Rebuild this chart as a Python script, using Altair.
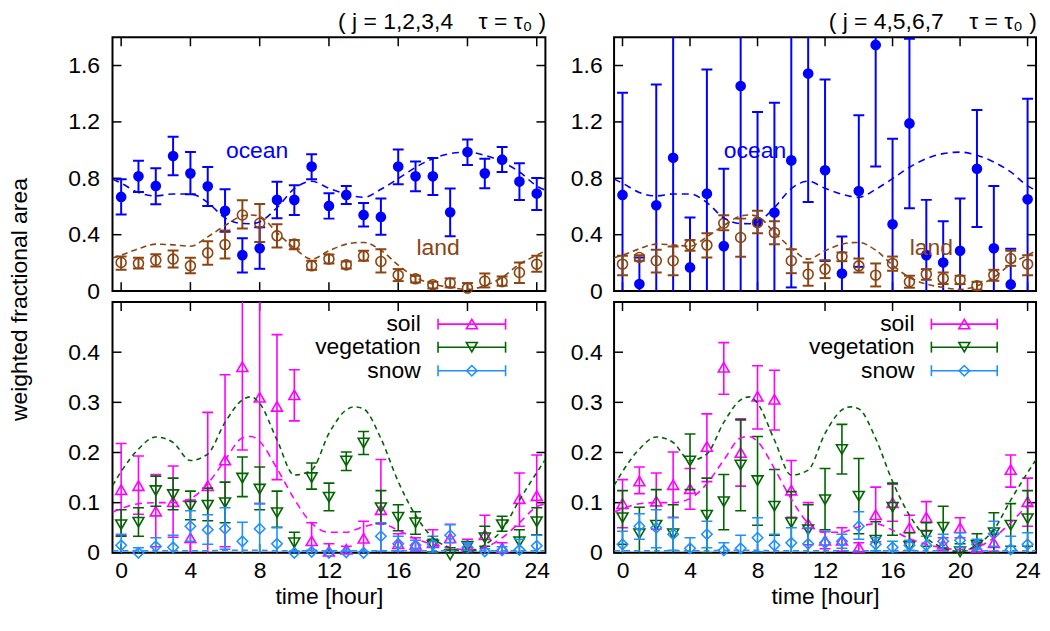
import altair as alt
import pandas as pd

FONT = "Liberation Sans"
FS = 23

HOURS = list(range(25))
XTICKS = [0, 4, 8, 12, 16, 20, 24]
YT_TOP = [0, 0.4, 0.8, 1.2, 1.6]
YT_BOT = [0, 0.1, 0.2, 0.3, 0.4]

# ---------------- top-left (j = 1,2,3,4) ----------------
TL_OCEAN = [0.668, 0.814, 0.746, 0.958, 0.835, 0.743, 0.569, 0.255, 0.304, 0.647, 0.647, 0.883, 0.604,
            0.682, 0.540, 0.526, 0.883, 0.814, 0.814, 0.559, 0.986, 0.835, 0.932, 0.777, 0.692]
TL_OCEAN_LO = [0.543, 0.703, 0.616, 0.821, 0.687, 0.604, 0.420, 0.132, 0.158, 0.517, 0.540, 0.793, 0.514,
               0.618, 0.458, 0.399, 0.758, 0.708, 0.682, 0.389, 0.894, 0.729, 0.845, 0.646, 0.576]
TL_OCEAN_HI = [0.793, 0.925, 0.871, 1.095, 0.986, 0.880, 0.722, 0.375, 0.453, 0.776, 0.750, 0.970, 0.694,
               0.746, 0.625, 0.656, 1.005, 0.920, 0.944, 0.727, 1.076, 0.939, 1.022, 0.906, 0.802]
TL_LAND = [0.203, 0.196, 0.219, 0.227, 0.179, 0.271, 0.330, 0.540, 0.481, 0.392, 0.333, 0.179, 0.227,
           0.186, 0.248, 0.210, 0.113, 0.087, 0.045, 0.057, 0.021, 0.071, 0.066, 0.132, 0.191]
TL_LAND_LO = [0.151, 0.160, 0.175, 0.168, 0.127, 0.186, 0.231, 0.444, 0.349, 0.309, 0.297, 0.151, 0.196,
              0.160, 0.215, 0.132, 0.071, 0.061, 0.019, 0.026, -0.015, 0.026, 0.038, 0.057, 0.137]
TL_LAND_HI = [0.245, 0.236, 0.262, 0.288, 0.236, 0.354, 0.430, 0.644, 0.618, 0.474, 0.363, 0.215, 0.260,
              0.210, 0.286, 0.297, 0.156, 0.109, 0.066, 0.090, 0.057, 0.125, 0.104, 0.203, 0.250]

# ---------------- top-right (j = 4,5,6,7) ----------------
TR_OCEAN = [0.682, 0.050, 0.609, 0.946, 0.168, 0.691, 0.319, 1.454, 0.491, 0.557, 0.927, 1.543, 0.857,
            0.125, 0.710, 1.746, 0.474, 1.189, 0.255, 0.203, 0.286, 0.868, 0.304, 0.047, 0.651]
TR_OCEAN_LO = [-0.04, -0.14, -0.25, -0.05, -0.19, -0.19, -0.23, -0.15, -0.29, -0.22, 0.026, 0.632, 0.214,
               -0.14, 0.172, 0.883, -0.13, 0.588, -0.14, -0.09, -0.08, 0.455, -0.14, -0.20, -0.06]
TR_OCEAN_HI = [1.406, 0.238, 1.465, 1.95, 0.522, 1.572, 0.868, 3.06, 1.270, 1.336, 1.83, 2.45, 1.50,
               0.387, 1.248, 2.61, 1.081, 1.789, 0.647, 0.496, 0.656, 1.284, 0.746, 0.30, 1.364]
TR_LAND = [0.191, 0.238, 0.215, 0.215, 0.326, 0.326, 0.481, 0.380, 0.486, 0.415, 0.215, 0.120, 0.156,
           0.245, 0.179, 0.113, 0.196, 0.066, 0.120, 0.090, 0.080, 0.038, 0.113, 0.231, 0.191]
TR_LAND_LO = [0.113, 0.215, 0.132, 0.113, 0.286, 0.238, 0.432, 0.243, 0.410, 0.333, 0.127, 0.038, 0.092,
              0.212, 0.132, 0.033, 0.144, 0.024, 0.080, 0.050, 0.050, 0.010, 0.073, 0.179, 0.113]
TR_LAND_HI = [0.250, 0.255, 0.293, 0.316, 0.363, 0.410, 0.538, 0.514, 0.569, 0.496, 0.297, 0.203, 0.219,
              0.274, 0.231, 0.196, 0.245, 0.109, 0.156, 0.132, 0.109, 0.066, 0.151, 0.286, 0.255]

# ---------------- bottom-left ----------------
BL_SOIL = [0.126, 0.134, 0.083, 0.102, 0.030, 0.134, 0.185, 0.371, 0.310, 0.292, 0.315, 0.024, 0.003,
           0.007, 0.029, 0.086, 0.018, 0.017, 0.020, 0.030, 0.015, 0.036, 0.010, 0.108, 0.114]
BL_SOIL_LO = [0.034, 0.077, 0.012, 0.031, -0.045, -0.010, 0.012, 0.205, 0.098, 0.146, 0.263, -0.010, -0.010,
              0.001, -0.005, -0.014, -0.002, 0.003, -0.006, 0.005, 0.003, -0.003, 0.000, 0.053, 0.036]
BL_SOIL_HI = [0.218, 0.193, 0.156, 0.173, 0.105, 0.280, 0.355, 0.537, 0.520, 0.435, 0.365, 0.060, 0.018,
              0.013, 0.063, 0.186, 0.038, 0.030, 0.046, 0.057, 0.027, 0.075, 0.020, 0.159, 0.195]
BL_VEG = [0.056, 0.061, 0.124, 0.116, 0.093, 0.095, 0.100, 0.149, 0.127, 0.080, 0.020, 0.150, 0.111,
          0.183, 0.219, 0.090, 0.071, 0.060, 0.015, -0.004, 0.013, 0.030, 0.056, 0.022, 0.062]
BL_VEG_LO = [0.033, 0.033, 0.093, 0.086, 0.066, 0.064, 0.060, 0.112, 0.086, 0.051, 0.003, 0.127, 0.084,
             0.164, 0.196, 0.058, 0.044, 0.037, 0.002, -0.020, 0.005, 0.013, 0.043, -0.002, 0.036]
BL_VEG_HI = [0.086, 0.090, 0.153, 0.149, 0.123, 0.129, 0.141, 0.191, 0.171, 0.123, 0.041, 0.179, 0.139,
             0.201, 0.242, 0.124, 0.096, 0.082, 0.027, 0.010, 0.020, 0.053, 0.073, 0.046, 0.090]
BL_SNOW = [0.015, 0.000, 0.013, 0.011, 0.053, 0.046, 0.048, 0.023, 0.048, 0.018, 0.000, 0.002, 0.000,
           0.001, 0.000, 0.033, 0.018, 0.015, 0.017, 0.035, 0.011, 0.003, 0.005, 0.006, 0.014]
BL_SNOW_LO = [-0.007, -0.010, -0.004, -0.012, 0.023, 0.017, 0.007, -0.015, -0.002, -0.014, -0.002, -0.001, -0.002,
              -0.002, -0.002, 0.003, 0.003, 0.005, 0.001, 0.020, 0.002, -0.002, -0.003, -0.015, -0.007]
BL_SNOW_HI = [0.037, 0.010, 0.030, 0.035, 0.084, 0.076, 0.090, 0.061, 0.098, 0.050, 0.002, 0.005, 0.002,
              0.003, 0.002, 0.060, 0.033, 0.025, 0.033, 0.056, 0.020, 0.008, 0.012, 0.027, 0.035]

# ---------------- bottom-right ----------------
BR_SOIL = [0.098, 0.143, 0.103, 0.136, 0.128, 0.212, 0.370, 0.200, 0.312, 0.306, 0.125, 0.058, 0.025,
           0.025, 0.011, 0.076, 0.100, 0.050, 0.071, 0.017, 0.050, 0.011, 0.020, 0.166, 0.102]
BR_SOIL_LO = [0.050, 0.118, 0.047, 0.071, 0.087, 0.142, 0.316, 0.133, 0.247, 0.245, 0.071, 0.016, 0.008,
              0.003, 0.002, 0.022, 0.063, 0.023, 0.043, 0.004, 0.030, 0.002, 0.003, 0.131, 0.053]
BR_SOIL_HI = [0.146, 0.171, 0.159, 0.201, 0.168, 0.277, 0.419, 0.267, 0.373, 0.364, 0.184, 0.100, 0.042,
              0.050, 0.020, 0.131, 0.137, 0.075, 0.102, 0.030, 0.070, 0.020, 0.037, 0.195, 0.149]
BR_VEG = [0.070, 0.038, 0.055, 0.038, 0.183, 0.075, 0.102, 0.175, 0.144, 0.093, 0.060, 0.046, 0.106,
          0.206, 0.113, 0.025, 0.091, 0.013, 0.035, 0.051, 0.002, 0.015, 0.040, 0.055, 0.068]
BR_VEG_LO = [0.017, -0.015, -0.016, -0.020, 0.126, 0.000, 0.046, 0.084, 0.055, 0.035, -0.002, -0.004, 0.046,
             0.157, 0.038, -0.012, 0.035, -0.014, 0.013, 0.010, -0.014, -0.008, 0.000, 0.013, 0.013]
BR_VEG_HI = [0.124, 0.091, 0.126, 0.096, 0.237, 0.149, 0.156, 0.265, 0.232, 0.166, 0.122, 0.096, 0.168,
             0.256, 0.188, 0.062, 0.139, 0.040, 0.060, 0.093, 0.018, 0.038, 0.080, 0.098, 0.124]
BR_SNOW = [0.017, 0.053, 0.050, 0.037, 0.009, 0.037, 0.005, 0.009, 0.030, 0.015, 0.020, 0.018, 0.020,
           0.023, 0.053, 0.017, 0.011, 0.015, 0.015, 0.023, 0.025, 0.017, 0.038, 0.007, 0.017]
BR_SNOW_LO = [-0.009, 0.027, 0.010, 0.005, -0.012, 0.010, -0.010, -0.017, 0.002, -0.007, -0.010, -0.014, -0.003,
              0.009, 0.027, 0.004, -0.001, 0.005, -0.003, 0.009, 0.010, 0.007, 0.013, -0.019, -0.006]
BR_SNOW_HI = [0.043, 0.078, 0.086, 0.070, 0.030, 0.063, 0.020, 0.035, 0.070, 0.037, 0.050, 0.050, 0.043,
              0.037, 0.082, 0.030, 0.023, 0.025, 0.033, 0.037, 0.040, 0.027, 0.063, 0.033, 0.040]

# ---------------- model curves (dashed) ----------------
MODEL_H = [-0.5, 0, 1, 2, 3, 4, 5, 6, 7, 7.5, 8, 9, 10, 11, 12, 13, 13.5, 14, 15, 16, 17, 18, 19, 20,
           21, 22, 23, 24, 24.5]
OCEAN_MODEL = [0.795, 0.765, 0.699, 0.675, 0.689, 0.689, 0.628, 0.519, 0.479, 0.478, 0.491, 0.592, 0.727,
               0.779, 0.729, 0.687, 0.672, 0.665, 0.722, 0.798, 0.878, 0.939, 0.975, 0.986, 0.963, 0.916,
               0.845, 0.746, 0.715]
LAND_MODEL = [0.235, 0.255, 0.300, 0.333, 0.328, 0.318, 0.385, 0.465, 0.533, 0.540, 0.530, 0.415, 0.305,
              0.227, 0.286, 0.333, 0.343, 0.345, 0.290, 0.185, 0.097, 0.050, 0.026, 0.012, 0.038, 0.097,
              0.190, 0.255, 0.285]
VEG_MODEL = [0.134, 0.162, 0.207, 0.231, 0.220, 0.184, 0.197, 0.260, 0.305, 0.311, 0.298, 0.225, 0.155,
             0.165, 0.238, 0.285, 0.291, 0.287, 0.228, 0.142, 0.075, 0.030, 0.010, 0.002, 0.016, 0.046,
             0.105, 0.160, 0.186]
SOIL_MODEL = [0.081, 0.088, 0.098, 0.100, 0.100, 0.108, 0.138, 0.185, 0.229, 0.232, 0.222, 0.168, 0.107,
              0.059, 0.041, 0.041, 0.046, 0.052, 0.058, 0.045, 0.028, 0.017, 0.010, 0.006, 0.011, 0.030,
              0.060, 0.092, 0.098]
SNOW_MODEL = [0.004, 0.004, 0.004, 0.004, 0.004, 0.004, 0.004, 0.005, 0.005, 0.005, 0.005, 0.004, 0.004,
              0.004, 0.004, 0.004, 0.004, 0.004, 0.004, 0.004, 0.004, 0.004, 0.004, 0.004, 0.004, 0.004,
              0.004, 0.004, 0.004]

LEGEND_NAMES = ["soil", "vegetation", "snow"]

# ---------------- styles ----------------
C_OCEAN = "#0000ff"
C_LAND = "#8b4513"
C_SOIL = "#ff00ff"
C_VEG = "#006400"
C_SNOW = "#1e90ff"
TICK_LEN = 9
CAP = 11


def build_panel(W, H, ydom, yticks, series, models, labels, legend, show_x, ytitle, title=None, lpad=13):
    xs = alt.Scale(domain=[-0.5, 24.5], nice=False, zero=False)
    ys = alt.Scale(domain=ydom, nice=False, zero=False)
    if show_x:
        xax = alt.Axis(values=XTICKS, format="d", ticks=False, tickSize=0, domain=False, grid=False,
                       labelPadding=7, titlePadding=3, labelFont=FONT, labelFontSize=FS,
                       titleFont=FONT, titleFontSize=FS, titleFontWeight="normal",
                       labelColor="black", titleColor="black", labelFlush=False)
        xtitle = "time [hour]"
    else:
        xax = None
        xtitle = None
    ykw = dict(values=yticks, labelExpr="datum.value == 0 ? '0' : format(datum.value, '.1f')",
               ticks=False, tickSize=0, domain=False, grid=False, labelPadding=lpad,
               labelFont=FONT, labelFontSize=FS, labelColor="black")
    if ytitle:
        ykw.update(titleX=-81, titleY=263, titleFont=FONT, titleFontSize=FS,
                   titleFontWeight="normal", titleColor="black")
    yax = alt.Axis(**ykw)

    def X(f):
        return alt.X(f, scale=xs, axis=xax, title=xtitle)

    def Y(f):
        return alt.Y(f, scale=ys, axis=yax, title=ytitle)

    layers = []
    xt = pd.DataFrame({"h": XTICKS})
    yt = pd.DataFrame({"v": yticks})
    rule = dict(color="black", strokeWidth=1.5)
    layers.append(alt.Chart(xt).mark_rule(**rule).encode(x=X("h:Q"), y=alt.value(0), y2=alt.value(TICK_LEN)))
    layers.append(alt.Chart(xt).mark_rule(**rule).encode(x=X("h:Q"), y=alt.value(H), y2=alt.value(H - TICK_LEN)))
    layers.append(alt.Chart(yt).mark_rule(**rule).encode(y=Y("v:Q"), x=alt.value(0), x2=alt.value(TICK_LEN)))
    layers.append(alt.Chart(yt).mark_rule(**rule).encode(y=Y("v:Q"), x=alt.value(W), x2=alt.value(W - TICK_LEN)))

    for s in series:
        df = pd.DataFrame({"h": HOURS, "v": s["v"], "lo": s["lo"], "hi": s["hi"]})
        base = alt.Chart(df)
        layers.append(base.mark_rule(color=s["color"], strokeWidth=s["bw"], clip=True)
                      .encode(x=X("h:Q"), y=Y("lo:Q"), y2="hi:Q"))
        for f in ("lo", "hi"):
            layers.append(base.mark_tick(color=s["color"], orient="horizontal", size=CAP,
                                         thickness=s["bw"], clip=True, opacity=1)
                          .encode(x=X("h:Q"), y=Y(f + ":Q")))
        layers.append(base.mark_point(shape=s["shape"], filled=s["filled"], color=s["color"],
                                      size=s["size"], strokeWidth=1.6, opacity=1)
                      .encode(x=X("h:Q"), y=Y("v:Q")))

    for m in models:
        df = pd.DataFrame({"h": MODEL_H, "v": m["v"]})
        layers.append(alt.Chart(df).mark_line(color=m["color"], strokeDash=m["dash"], strokeWidth=1.6,
                                              interpolate="monotone", clip=True)
                      .encode(x=X("h:Q"), y=Y("v:Q")))

    for (txt, hx, vy, col) in labels:
        layers.append(alt.Chart(pd.DataFrame({"t": [txt]}))
                      .mark_text(color=col, font=FONT, fontSize=FS, align="center", baseline="middle")
                      .encode(x=alt.datum(hx), y=alt.datum(vy), text="t:N"))

    if legend:
        rows = [0.456, 0.41, 0.363]
        for name, vy, s in zip(LEGEND_NAMES, rows, series):
            one = pd.DataFrame({"t": [name]})
            layers.append(alt.Chart(one).mark_text(color="black", font=FONT, fontSize=FS,
                                                   align="right", baseline="middle")
                          .encode(x=alt.datum(17.3), y=alt.datum(vy), text="t:N"))
            layers.append(alt.Chart(one).mark_rule(color=s["color"], strokeWidth=s["bw"])
                          .encode(x=alt.datum(18.3), x2=alt.datum(22.2), y=alt.datum(vy)))
            for hx in (18.3, 22.2):
                layers.append(alt.Chart(one).mark_tick(color=s["color"], orient="vertical", size=CAP,
                                                       thickness=s["bw"], opacity=1)
                              .encode(x=alt.datum(hx), y=alt.datum(vy)))
            layers.append(alt.Chart(one).mark_point(shape=s["shape"], filled=False, color=s["color"],
                                                    size=s["size"], strokeWidth=1.6, opacity=1)
                          .encode(x=alt.datum(20.25), y=alt.datum(vy)))

    props = dict(width=W, height=H)
    if title:
        props["title"] = alt.TitleParams(title, anchor="end", font=FONT, fontSize=FS,
                                         fontWeight="normal", color="black", offset=3)
    return alt.layer(*layers).properties(**props)


def top_series(o, olo, ohi, l, llo, lhi):
    return [
        dict(v=o, lo=olo, hi=ohi, color=C_OCEAN, shape="circle", filled=True, size=115, bw=2),
        dict(v=l, lo=llo, hi=lhi, color=C_LAND, shape="circle", filled=False, size=100, bw=2),
    ]


def bot_series(s, slo, shi, g, glo, ghi, w, wlo, whi):
    return [
        dict(v=s, lo=slo, hi=shi, color=C_SOIL, shape="triangle-up", filled=False, size=120, bw=1.6),
        dict(v=g, lo=glo, hi=ghi, color=C_VEG, shape="triangle-down", filled=False, size=120, bw=1.6),
        dict(v=w, lo=wlo, hi=whi, color=C_SNOW, shape="diamond", filled=False, size=110, bw=1.6),
    ]


TOP_MODELS = [dict(v=OCEAN_MODEL, color=C_OCEAN, dash=[7, 5]), dict(v=LAND_MODEL, color=C_LAND, dash=[6, 4])]
BOT_MODELS = [dict(v=SNOW_MODEL, color=C_SNOW, dash=[6, 4]), dict(v=SOIL_MODEL, color=C_SOIL, dash=[7, 5]),
              dict(v=VEG_MODEL, color=C_VEG, dash=[5, 4])]
TOP_LABELS = [("ocean", 7.85, 0.99, C_OCEAN), ("land", 18.3, 0.305, C_LAND)]

WL, WR, HT, HB = 435, 424, 255, 252
NB = "\u00a0"
TL = build_panel(WL, HT, [0, 1.8], YT_TOP,
                 top_series(TL_OCEAN, TL_OCEAN_LO, TL_OCEAN_HI, TL_LAND, TL_LAND_LO, TL_LAND_HI),
                 TOP_MODELS, TOP_LABELS, False, False, "weighted fractional area",
                 title=f"( j = 1,2,3,4{NB}{NB}{NB}{NB}τ = τ₀ )")
BL = build_panel(WL, HB, [0, 0.5], YT_BOT,
                 bot_series(BL_SOIL, BL_SOIL_LO, BL_SOIL_HI, BL_VEG, BL_VEG_LO, BL_VEG_HI,
                            BL_SNOW, BL_SNOW_LO, BL_SNOW_HI),
                 BOT_MODELS, [], True, True, None)
TR = build_panel(WR, HT, [0, 1.8], YT_TOP,
                 top_series(TR_OCEAN, TR_OCEAN_LO, TR_OCEAN_HI, TR_LAND, TR_LAND_LO, TR_LAND_HI),
                 TOP_MODELS, TOP_LABELS, False, False, None,
                 title=f"( j = 4,5,6,7{NB}{NB}{NB}{NB}τ = τ₀ )", lpad=12)
BR = build_panel(WR, HB, [0, 0.5], YT_BOT,
                 bot_series(BR_SOIL, BR_SOIL_LO, BR_SOIL_HI, BR_VEG, BR_VEG_LO, BR_VEG_HI,
                            BR_SNOW, BR_SNOW_LO, BR_SNOW_HI),
                 BOT_MODELS, [], True, True, None, lpad=12)

chart = (
    alt.hconcat(alt.vconcat(TL, BL, spacing=11, bounds="flush"),
                alt.vconcat(TR, BR, spacing=11, bounds="flush"),
                spacing=18)
    .properties(padding={"left": 0, "top": 0, "right": 0, "bottom": 0})
    .configure(font=FONT)
    .configure_view(stroke="black", strokeWidth=2)
)

chart.save("out.html", embed_options={"renderer": "svg", "actions": False})
